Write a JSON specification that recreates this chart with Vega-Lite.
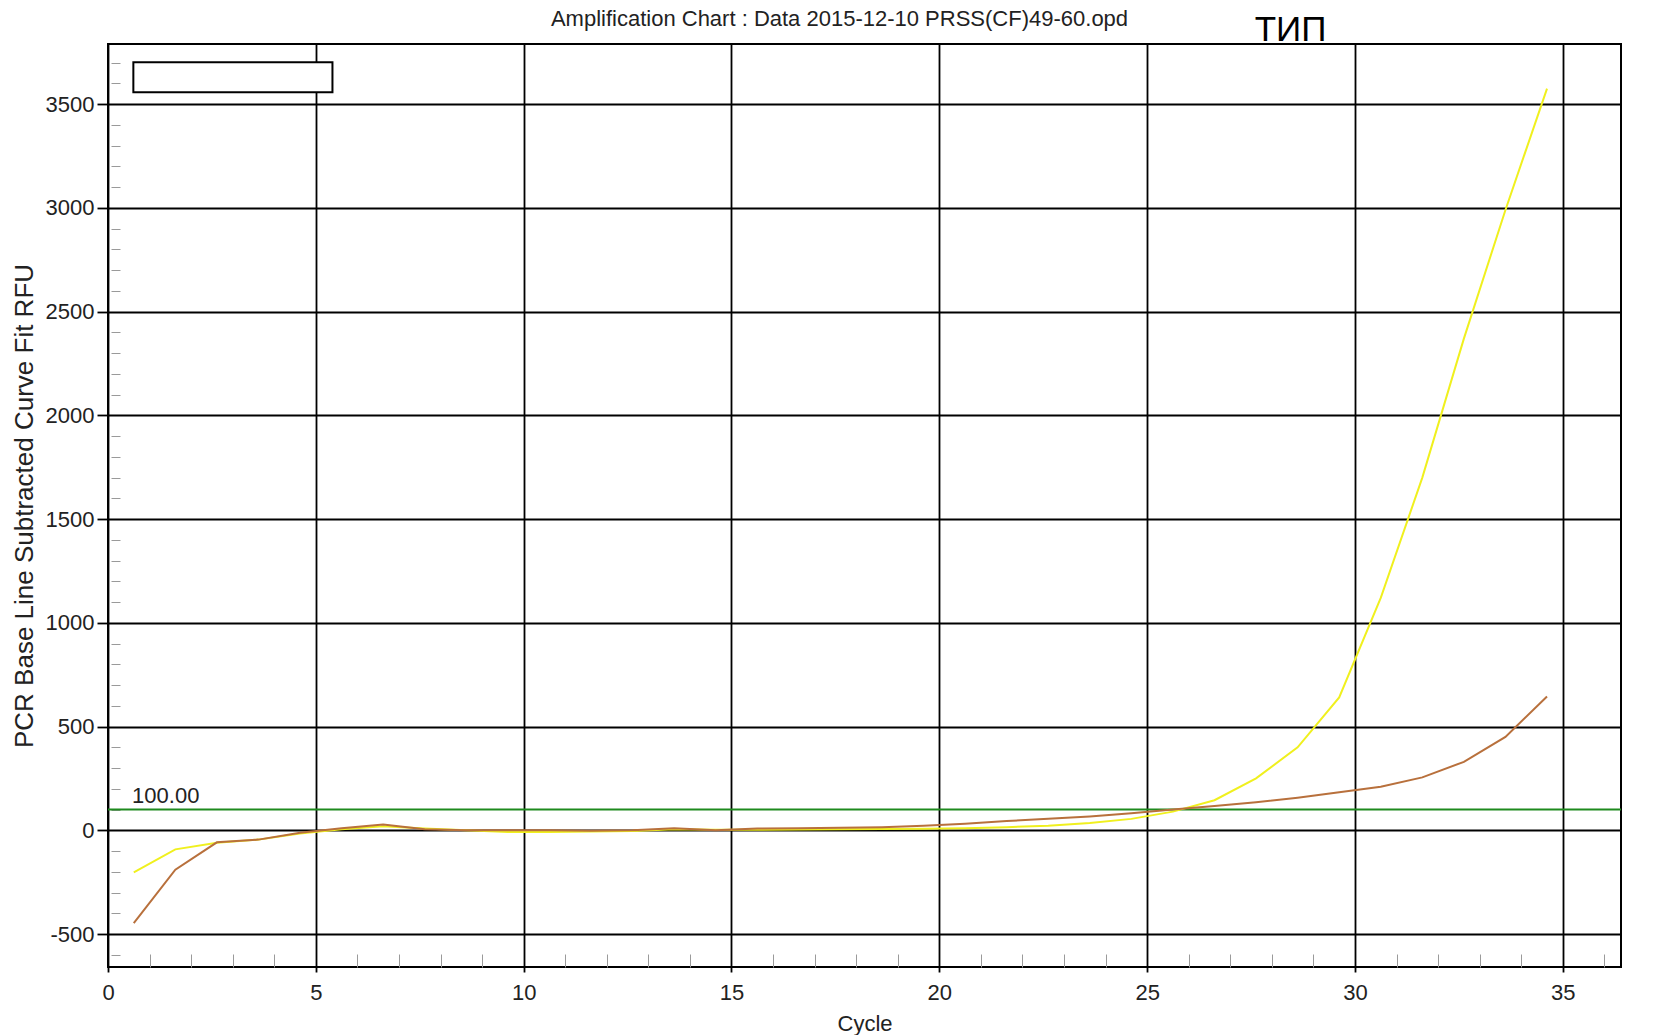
{
  "$schema": "https://vega.github.io/schema/vega-lite/v6.json",
  "autosize": {"type": "none"},
  "padding": {"left": 108, "top": 44, "right": 42, "bottom": 68},
  "width": 1513,
  "height": 923,
  "background": "white",
  "config": {
    "view": {"stroke": "black", "strokeWidth": 2},
    "font": "Liberation Sans"
  },
  "title": {
    "text": "Amplification Chart : Data 2015-12-10 PRSS(CF)49-60.opd",
    "font": "Liberation Sans",
    "fontSize": 22,
    "fontWeight": "normal",
    "color": "#222222",
    "anchor": "middle",
    "frame": "group",
    "dx": -25,
    "dy": 32,
    "offset": 14
  },
  "datasets": {
    "curves": [
      {"cycle": 0.62, "rfu": -203, "well": "A"},
      {"cycle": 1.62, "rfu": -92, "well": "A"},
      {"cycle": 2.62, "rfu": -60, "well": "A"},
      {"cycle": 3.62, "rfu": -45, "well": "A"},
      {"cycle": 4.62, "rfu": -15, "well": "A"},
      {"cycle": 5.62, "rfu": 5, "well": "A"},
      {"cycle": 6.62, "rfu": 20, "well": "A"},
      {"cycle": 7.62, "rfu": 8, "well": "A"},
      {"cycle": 8.62, "rfu": 0, "well": "A"},
      {"cycle": 9.62, "rfu": -8, "well": "A"},
      {"cycle": 10.62, "rfu": -8, "well": "A"},
      {"cycle": 11.62, "rfu": -6, "well": "A"},
      {"cycle": 12.62, "rfu": -3, "well": "A"},
      {"cycle": 13.62, "rfu": 5, "well": "A"},
      {"cycle": 14.62, "rfu": 2, "well": "A"},
      {"cycle": 15.62, "rfu": 3, "well": "A"},
      {"cycle": 16.62, "rfu": 4, "well": "A"},
      {"cycle": 17.62, "rfu": 5, "well": "A"},
      {"cycle": 18.62, "rfu": 6, "well": "A"},
      {"cycle": 19.62, "rfu": 7, "well": "A"},
      {"cycle": 20.62, "rfu": 10, "well": "A"},
      {"cycle": 21.62, "rfu": 15, "well": "A"},
      {"cycle": 22.62, "rfu": 22, "well": "A"},
      {"cycle": 23.62, "rfu": 35, "well": "A"},
      {"cycle": 24.62, "rfu": 55, "well": "A"},
      {"cycle": 25.62, "rfu": 90, "well": "A"},
      {"cycle": 26.62, "rfu": 145, "well": "A"},
      {"cycle": 27.62, "rfu": 250, "well": "A"},
      {"cycle": 28.62, "rfu": 400, "well": "A"},
      {"cycle": 29.62, "rfu": 640, "well": "A"},
      {"cycle": 30.62, "rfu": 1120, "well": "A"},
      {"cycle": 31.62, "rfu": 1700, "well": "A"},
      {"cycle": 32.62, "rfu": 2370, "well": "A"},
      {"cycle": 33.62, "rfu": 2990, "well": "A"},
      {"cycle": 34.62, "rfu": 3575, "well": "A"},
      {"cycle": 0.62, "rfu": -447, "well": "B"},
      {"cycle": 1.62, "rfu": -190, "well": "B"},
      {"cycle": 2.62, "rfu": -58, "well": "B"},
      {"cycle": 3.62, "rfu": -45, "well": "B"},
      {"cycle": 4.62, "rfu": -12, "well": "B"},
      {"cycle": 5.62, "rfu": 10, "well": "B"},
      {"cycle": 6.62, "rfu": 28, "well": "B"},
      {"cycle": 7.62, "rfu": 5, "well": "B"},
      {"cycle": 8.62, "rfu": 0, "well": "B"},
      {"cycle": 9.62, "rfu": 0, "well": "B"},
      {"cycle": 10.62, "rfu": 0, "well": "B"},
      {"cycle": 11.62, "rfu": -2, "well": "B"},
      {"cycle": 12.62, "rfu": 0, "well": "B"},
      {"cycle": 13.62, "rfu": 10, "well": "B"},
      {"cycle": 14.62, "rfu": 0, "well": "B"},
      {"cycle": 15.62, "rfu": 8, "well": "B"},
      {"cycle": 16.62, "rfu": 10, "well": "B"},
      {"cycle": 17.62, "rfu": 12, "well": "B"},
      {"cycle": 18.62, "rfu": 15, "well": "B"},
      {"cycle": 19.62, "rfu": 22, "well": "B"},
      {"cycle": 20.62, "rfu": 32, "well": "B"},
      {"cycle": 21.62, "rfu": 45, "well": "B"},
      {"cycle": 22.62, "rfu": 55, "well": "B"},
      {"cycle": 23.62, "rfu": 67, "well": "B"},
      {"cycle": 24.62, "rfu": 82, "well": "B"},
      {"cycle": 25.62, "rfu": 100, "well": "B"},
      {"cycle": 26.62, "rfu": 117, "well": "B"},
      {"cycle": 27.62, "rfu": 135, "well": "B"},
      {"cycle": 28.62, "rfu": 157, "well": "B"},
      {"cycle": 29.62, "rfu": 183, "well": "B"},
      {"cycle": 30.62, "rfu": 210, "well": "B"},
      {"cycle": 31.62, "rfu": 255, "well": "B"},
      {"cycle": 32.62, "rfu": 330, "well": "B"},
      {"cycle": 33.62, "rfu": 450, "well": "B"},
      {"cycle": 34.62, "rfu": 645, "well": "B"}
    ]
  },
  "layer": [
    {
      "data": {"values": [{"x1": 0.61, "x2": 5.4, "y1": 3557, "y2": 3702}]},
      "mark": {"type": "rect", "fill": "white", "stroke": "black", "strokeWidth": 2},
      "encoding": {
        "x": {
          "field": "x1", "type": "quantitative",
          "scale": {"domain": [0, 36.4], "nice": false, "zero": false},
          "axis": {
            "orient": "bottom", "title": null, "labels": false, "domain": false, "grid": false,
            "ticks": true, "tickSize": -13, "tickColor": "#9a9a9a", "tickWidth": 1,
            "values": [1,2,3,4,6,7,8,9,11,12,13,14,16,17,18,19,21,22,23,24,26,27,28,29,31,32,33,34,36]
          }
        },
        "x2": {"field": "x2"},
        "y": {
          "field": "y1", "type": "quantitative",
          "scale": {"domain": [-659, 3790], "nice": false, "zero": false},
          "axis": {
            "orient": "left", "title": null, "labels": false, "domain": false, "grid": false,
            "ticks": true, "tickSize": -9, "offset": -3, "tickColor": "#9a9a9a", "tickWidth": 1,
            "values": [-600,-400,-300,-200,-100,100,200,300,400,600,700,800,900,1100,1200,1300,1400,1600,1700,1800,1900,2100,2200,2300,2400,2600,2700,2800,2900,3100,3200,3300,3400,3600,3700]
          }
        },
        "y2": {"field": "y2"}
      }
    },
    {
      "data": {"values": [{"threshold": 100}]},
      "mark": {"type": "rule", "color": "#1e8a1e", "strokeWidth": 2},
      "encoding": {
        "y": {"field": "threshold", "type": "quantitative", "scale": {"domain": [-659, 3790], "nice": false, "zero": false}, "axis": null}
      }
    },
    {
      "data": {"values": [{"label": "100.00", "x": 0.58, "y": 132}]},
      "mark": {"type": "text", "align": "left", "baseline": "alphabetic", "font": "Liberation Sans", "fontSize": 22, "color": "#222222"},
      "encoding": {
        "x": {"field": "x", "type": "quantitative", "scale": {"domain": [0, 36.4], "nice": false, "zero": false}, "axis": null},
        "y": {"field": "y", "type": "quantitative", "scale": {"domain": [-659, 3790], "nice": false, "zero": false}, "axis": null},
        "text": {"field": "label"}
      }
    },
    {
      "data": {"name": "curves"},
      "mark": {"type": "line", "strokeWidth": 2},
      "encoding": {
        "x": {
          "field": "cycle", "type": "quantitative",
          "scale": {"domain": [0, 36.4], "nice": false, "zero": false},
          "axis": {
            "orient": "bottom", "title": "Cycle", "values": [0,5,10,15,20,25,30,35],
            "grid": true, "gridColor": "black", "gridWidth": 1.8, "gridOpacity": 1,
            "domain": false, "ticks": true, "tickColor": "black", "tickSize": 5, "tickWidth": 1.8,
            "labelFont": "Liberation Sans", "labelFontSize": 22, "labelColor": "#222222",
            "labelPadding": 10, "labelFlush": false, "labelOverlap": false,
            "titleFont": "Liberation Sans", "titleFontSize": 22, "titleFontWeight": "normal",
            "titleColor": "#222222", "titlePadding": 10
          }
        },
        "y": {
          "field": "rfu", "type": "quantitative",
          "scale": {"domain": [-659, 3790], "nice": false, "zero": false},
          "axis": {
            "orient": "left", "title": "PCR Base Line Subtracted Curve Fit RFU",
            "values": [-500,0,500,1000,1500,2000,2500,3000,3500],
            "labelExpr": "'' + datum.value",
            "grid": true, "gridColor": "black", "gridWidth": 1.8, "gridOpacity": 1,
            "domain": false, "ticks": true, "tickColor": "black", "tickSize": 11, "tickWidth": 1.8,
            "labelFont": "Liberation Sans", "labelFontSize": 22, "labelColor": "#222222",
            "labelPadding": 3, "labelOverlap": false,
            "titleFont": "Liberation Sans", "titleFontSize": 26, "titleFontWeight": "normal",
            "titleColor": "#222222", "titlePadding": 8
          }
        },
        "color": {
          "field": "well", "type": "nominal",
          "scale": {"domain": ["A", "B"], "range": ["#f0f01e", "#b8703c"]},
          "legend": null
        }
      }
    },
    {
      "data": {"values": [{"label": "ТИП", "x": 28.45, "y": 3805}]},
      "mark": {"type": "text", "align": "center", "baseline": "alphabetic", "font": "Liberation Sans", "fontSize": 35, "color": "black"},
      "encoding": {
        "x": {"field": "x", "type": "quantitative", "scale": {"domain": [0, 36.4], "nice": false, "zero": false}, "axis": null},
        "y": {"field": "y", "type": "quantitative", "scale": {"domain": [-659, 3790], "nice": false, "zero": false}, "axis": null},
        "text": {"field": "label"}
      }
    }
  ],
  "resolve": {"axis": {"x": "independent", "y": "independent"}}
}
